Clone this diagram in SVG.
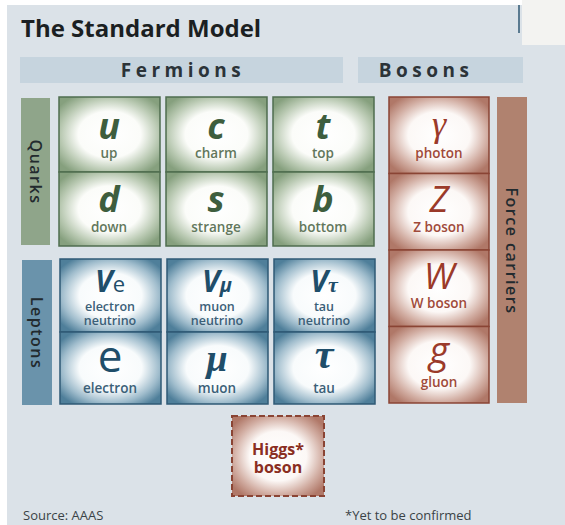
<svg xmlns="http://www.w3.org/2000/svg" width="565" height="525" viewBox="0 0 565 525">
<defs>
<radialGradient id="gG" cx="0.5" cy="0.5" r="0.62">
<stop offset="0" stop-color="#ffffff"/><stop offset="0.5" stop-color="#fbfcf9"/><stop offset="0.78" stop-color="#b9c9b2"/><stop offset="1" stop-color="#86a07e"/>
</radialGradient>
<radialGradient id="gB" cx="0.5" cy="0.5" r="0.62">
<stop offset="0" stop-color="#ffffff"/><stop offset="0.5" stop-color="#f8fbfc"/><stop offset="0.78" stop-color="#9fbccc"/><stop offset="1" stop-color="#4f7f9a"/>
</radialGradient>
<radialGradient id="gR" cx="0.5" cy="0.5" r="0.62">
<stop offset="0" stop-color="#ffffff"/><stop offset="0.5" stop-color="#fcf8f6"/><stop offset="0.78" stop-color="#d2aea3"/><stop offset="1" stop-color="#b07868"/>
</radialGradient>
</defs>
<style>
text{font-family:"Open Sans","Noto Sans","DejaVu Sans",sans-serif;text-anchor:middle}
.g{fill:url(#gG);stroke:#4f6d4f;stroke-width:1.5}
.b{fill:url(#gB);stroke:#2f5a75;stroke-width:1.5}
.r{fill:url(#gR);stroke:#8a4434;stroke-width:1.5}
.sym{font-weight:700;font-style:italic;font-size:36px}
.lbl{font-size:13.5px;font-weight:600}
.nl{font-size:12.5px}
.sg{fill:#3e5e3e}.lg{fill:#62775c}
.sb{fill:#1f4e6a}.lb{fill:#3b6078}
.sr{fill:#9b3a2a}.lr{fill:#a04a3a}
.hdr{fill:#c6d4de}
.htxt{font-weight:700;font-size:19px;fill:#2b3338}
.side{font-size:16px;font-weight:600;fill:#222a2e;letter-spacing:1.5px}
</style>
<rect x="0" y="0" width="565" height="525" fill="#ffffff"/>
<rect x="7" y="5" width="558" height="520" fill="#dbe2e8"/>
<rect x="522" y="0" width="43" height="45" fill="#f3f3f1"/>
<line x1="519" y1="5" x2="519" y2="33" stroke="#5a7a90" stroke-width="2"/>
<text x="21" y="37" style="text-anchor:start;font-weight:700;font-size:24px;fill:#1b1f22">The Standard Model</text>

<g id="fermions-header"><rect class="hdr" x="20" y="57" width="323" height="26"/><text class="htxt" x="183" y="77" style="letter-spacing:4.5px">Fermions</text></g>
<g id="bosons-header"><rect class="hdr" x="358" y="57" width="165" height="26"/><text class="htxt" x="426" y="77" style="letter-spacing:4.5px">Bosons</text></g>

<g id="quarks-label"><rect x="21" y="98" width="29" height="147" fill="#8fa58a"/><text class="side" transform="translate(30 172) rotate(90)">Quarks</text></g>
<g id="leptons-label"><rect x="22" y="260" width="30" height="145" fill="#6a93ab"/><text class="side" transform="translate(31 333) rotate(90)">Leptons</text></g>
<g id="force-carriers-label"><rect x="497" y="97" width="30" height="306" fill="#b0826f"/><text class="side" transform="translate(506 251) rotate(90)">Force carriers</text></g>

<g id="up"><rect class="g" x="59" y="97" width="101" height="75"/><text class="sym sg" x="109" y="139">u</text><text class="lbl lg" x="109" y="158">up</text></g>
<g id="charm"><rect class="g" x="166" y="97" width="101" height="75"/><text class="sym sg" x="216" y="139">c</text><text class="lbl lg" x="216" y="158">charm</text></g>
<g id="top"><rect class="g" x="273" y="97" width="101" height="75"/><text class="sym sg" x="323" y="139">t</text><text class="lbl lg" x="323" y="158">top</text></g>
<g id="down"><rect class="g" x="59" y="172" width="101" height="74"/><text class="sym sg" x="109" y="212">d</text><text class="lbl lg" x="109" y="232">down</text></g>
<g id="strange"><rect class="g" x="166" y="172" width="101" height="74"/><text class="sym sg" x="216" y="212">s</text><text class="lbl lg" x="216" y="232">strange</text></g>
<g id="bottom"><rect class="g" x="273" y="172" width="101" height="74"/><text class="sym sg" x="323" y="212">b</text><text class="lbl lg" x="323" y="232">bottom</text></g>

<g id="electron-neutrino"><rect class="b" x="60" y="259" width="101" height="73"/><text class="sb" x="110" y="292"><tspan style="font-style:italic;font-weight:700;font-size:30px">V</tspan><tspan style="font-size:22px">e</tspan></text><text class="lbl nl lb" x="110" y="311">electron</text><text class="lbl nl lb" x="110" y="325">neutrino</text></g>
<g id="muon-neutrino"><rect class="b" x="167" y="259" width="101" height="73"/><text class="sb" x="217" y="292"><tspan style="font-style:italic;font-weight:700;font-size:30px">V</tspan><tspan style="font-style:italic;font-weight:700;font-size:20px">μ</tspan></text><text class="lbl nl lb" x="217" y="311">muon</text><text class="lbl nl lb" x="217" y="325">neutrino</text></g>
<g id="tau-neutrino"><rect class="b" x="274" y="259" width="101" height="73"/><text class="sb" x="324" y="292"><tspan style="font-style:italic;font-weight:700;font-size:30px">V</tspan><tspan style="font-style:italic;font-weight:700;font-size:22px;font-family:'Liberation Serif',serif">τ</tspan></text><text class="lbl nl lb" x="324" y="311">tau</text><text class="lbl nl lb" x="324" y="325">neutrino</text></g>
<g id="electron"><rect class="b" x="60" y="332" width="101" height="72"/><text class="sb" x="110" y="372" style="font-size:44px">e</text><text class="lbl lb" x="110" y="393">electron</text></g>
<g id="muon"><rect class="b" x="167" y="332" width="101" height="72"/><text class="sym sb" x="217" y="371" style="font-family:'Liberation Serif',serif;font-size:38px">μ</text><text class="lbl lb" x="217" y="393">muon</text></g>
<g id="tau"><rect class="b" x="274" y="332" width="101" height="72"/><text class="sym sb" x="324" y="368" style="font-family:'Liberation Serif',serif;font-size:42px">τ</text><text class="lbl lb" x="324" y="393">tau</text></g>

<g id="photon"><rect class="r" x="389" y="97" width="100" height="76.5"/><text class="sr" x="439" y="136" style="font-style:italic;font-size:36px;font-family:'Liberation Serif',serif">γ</text><text class="lbl lr" x="439" y="158">photon</text></g>
<g id="z-boson"><rect class="r" x="389" y="173.5" width="100" height="76.5"/><text class="sr" x="439" y="212" style="font-style:italic;font-size:36px">Z</text><text class="lbl lr" x="439" y="232">Z boson</text></g>
<g id="w-boson"><rect class="r" x="389" y="250" width="100" height="76.5"/><text class="sr" x="439" y="289" style="font-style:italic;font-size:36px">W</text><text class="lbl lr" x="439" y="308">W boson</text></g>
<g id="gluon"><rect class="r" x="389" y="326.5" width="100" height="76.5"/><text class="sr" x="439" y="364" style="font-style:italic;font-size:38px">g</text><text class="lbl lr" x="439" y="387">gluon</text></g>

<g id="higgs"><rect x="232" y="416" width="92" height="80" fill="url(#gR)" stroke="#8a4434" stroke-width="2" stroke-dasharray="6 3"/><text x="278" y="455" style="font-weight:700;font-size:16px;fill:#8a2e22">Higgs*</text><text x="278" y="473" style="font-weight:700;font-size:16px;fill:#8a2e22">boson</text></g>

<text x="23" y="520" style="text-anchor:start;font-size:13px;fill:#3a4246">Source: AAAS</text>
<text x="345" y="520" style="text-anchor:start;font-size:13px;fill:#3a4246">*Yet to be confirmed</text>
</svg>
